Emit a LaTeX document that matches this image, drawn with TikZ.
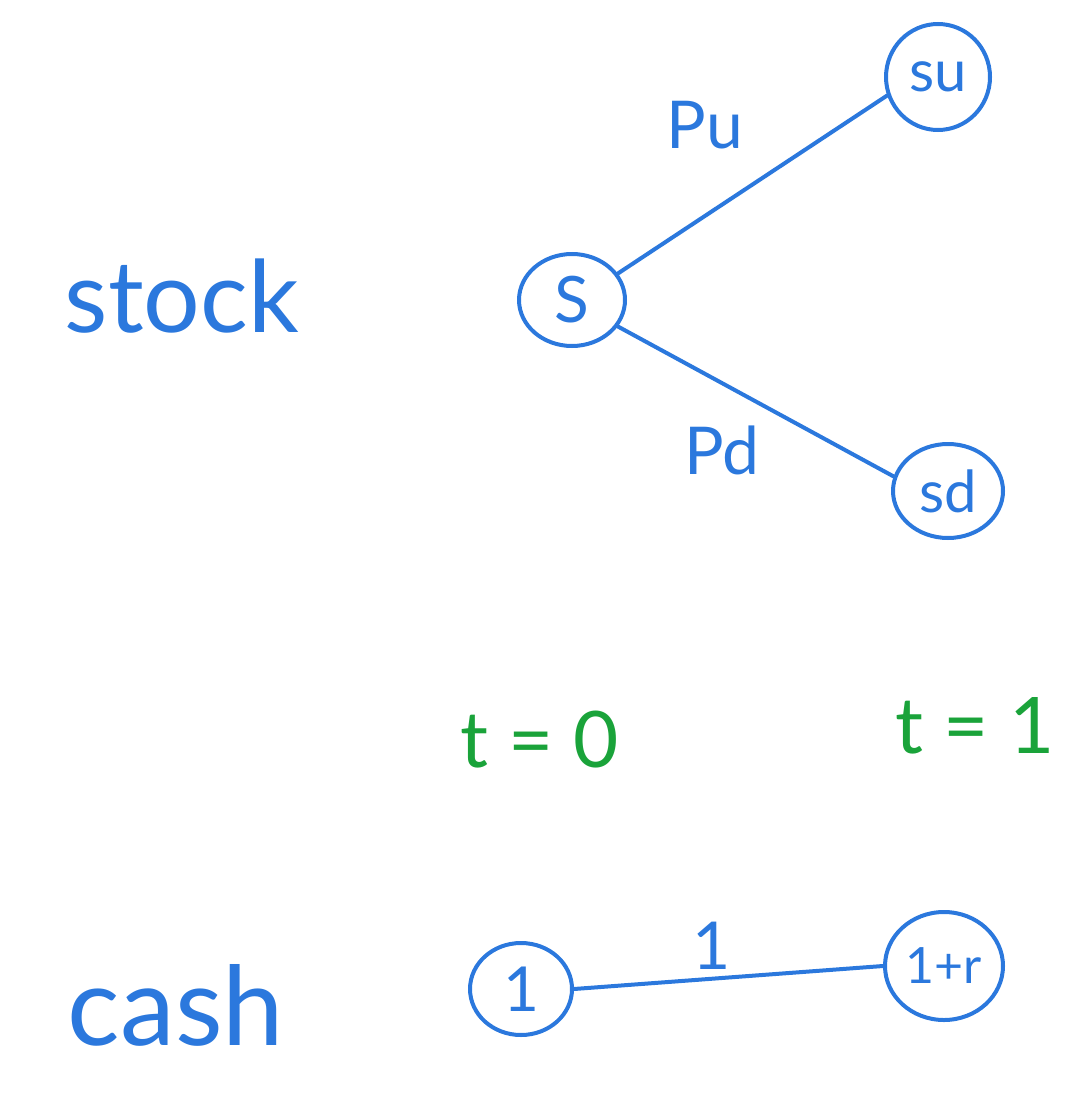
\documentclass[tikz,border=0pt]{standalone}
\usepackage{fontspec}
\setmainfont{Lato}
\usetikzlibrary{shapes.geometric}
\definecolor{inkblue}{HTML}{2B78DD}
\definecolor{inkgreen}{HTML}{1AA33A}
\begin{document}
\begin{tikzpicture}[x=1pt,y=-1pt,
  every node/.style={inner sep=0pt},
  ink/.style={draw=inkblue,line width=4pt,line cap=round},
  state/.style={ellipse,draw=inkblue,line width=4pt,text=inkblue,font=\fontsize{58}{60}\selectfont},
  word/.style={text=inkblue,font=\fontsize{100}{104}\selectfont},
  lbl/.style={text=inkblue,font=\fontsize{66}{70}\selectfont},
  timelbl/.style={text=inkgreen,font=\fontsize{78}{82}\selectfont}]
\useasboundingbox (0,0) rectangle (1067,1105);
% stock tree
\node[word] (stock) at (182,296) {stock};
\node[state,minimum width=106pt,minimum height=92pt,font=\fontsize{64}{66}\selectfont] (S) at (572,300) {S};
\node[state,minimum width=104pt,minimum height=106pt] (su) at (938,77) {su};
\node[state,minimum width=110pt,minimum height=94pt] (sd) at (948,491) {sd};
\draw[ink] (S.30) -- (su.200);
\draw[ink] (S.-30) -- (sd.165);
\node[lbl] (pu) at (705,125) {Pu};
\node[lbl] (pd) at (722,450) {Pd};
% times
\node[timelbl] (t0) at (540,740) {t = 0};
\node[timelbl] (t1) at (975,726) {t = 1};
% cash
\node[word,font=\fontsize{110}{114}\selectfont] (cash) at (176,1005) {cash};
\node[state,minimum width=102pt,minimum height=92pt,font=\fontsize{62}{64}\selectfont] (c0) at (521,989) {1};
\node[state,minimum width=118pt,minimum height=108pt,font=\fontsize{50}{52}\selectfont] (c1) at (944,966) {1+r};
\draw[ink] (c1.west) -- (c0.east);
\node[lbl] (one) at (712,946) {1};
\end{tikzpicture}
\end{document}
